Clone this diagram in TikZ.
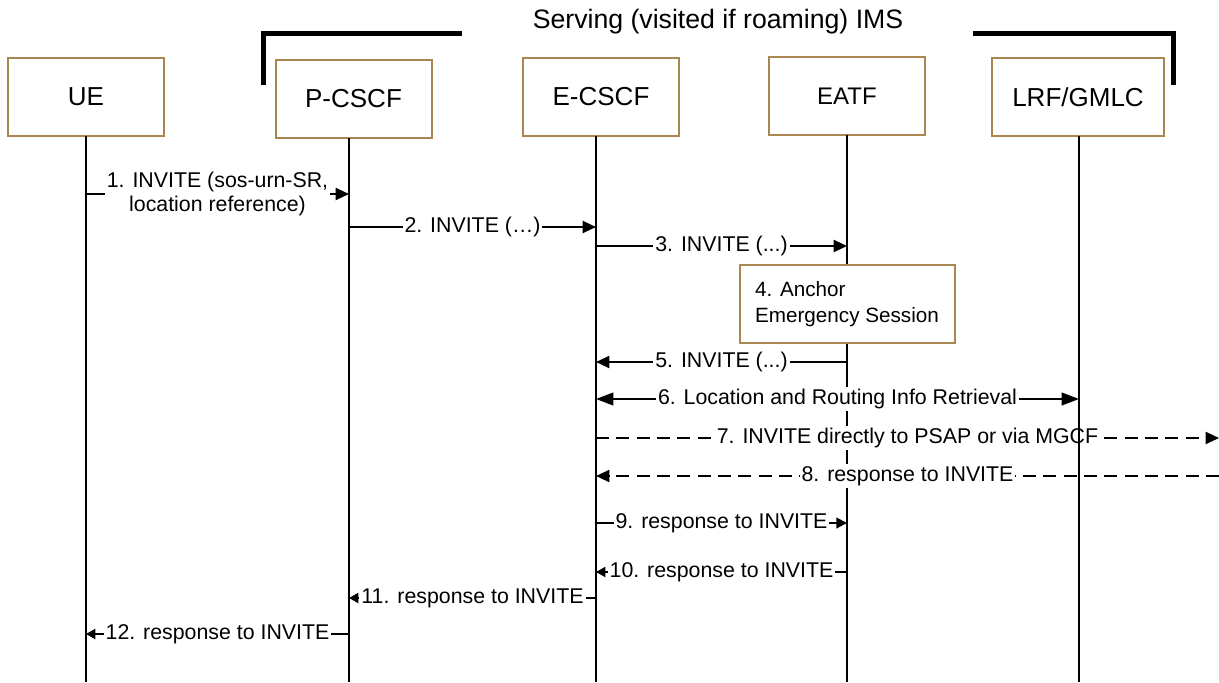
\documentclass[tikz,border=0pt]{standalone}
\usepackage{fontspec}
\setmainfont{Liberation Sans}
\usetikzlibrary{arrows.meta}
\definecolor{boxc}{RGB}{170,135,80}
\begin{document}
\begin{tikzpicture}[x=0.75pt,y=-0.75pt,
  actor/.style={draw=boxc,line width=1.5pt,fill=white,minimum width=117pt,minimum height=58.5pt,inner sep=0pt,font=\fontsize{19.5}{23}\selectfont},
  life/.style={line width=1.5pt},
  msg/.style={line width=1.5pt,-{Triangle[length=10pt,width=9pt]}},
  bigmsg/.style={line width=1.5pt,{Triangle[length=13pt,width=9.5pt]}-{Triangle[length=13pt,width=9.5pt]}},
  smallmsg/.style={line width=1.5pt,-{Triangle[length=7pt,width=7.5pt]}},
  dmsg/.style={msg,dash pattern=on 9.75pt off 5.5pt},
  lbl/.style={fill=white,inner sep=1.5pt,font=\fontsize{16}{18}\selectfont},
  bracketline/.style={line width=3.75pt}]
\useasboundingbox (0,0) rectangle (1219,682);

% title and bracket
\node[font=\fontsize{20}{24}\selectfont] (title) at (718,22) {Serving (visited if roaming) IMS};
\draw[bracketline] (263,85) -- (263,33) -- (462,33);
\draw[bracketline] (973,33) -- (1173,33) -- (1173,85);

% actors
\node[actor] (ue) at (86,97) {UE};
\node[actor] (pcscf) at (353.5,99) {P-CSCF};
\node[actor] (ecscf) at (601,97) {E-CSCF};
\node[actor,font=\fontsize{18}{22}\selectfont] (eatf) at (847,96) {EATF};
\node[actor,minimum width=129pt] (lrf) at (1078,97) {LRF/GMLC};

% lifeline anchors
\coordinate (Lue) at (86,136);
\coordinate (Lp) at (349,138);
\coordinate (Le) at (596,136);
\coordinate (La) at (847,135);
\coordinate (Ll) at (1079,136);
\coordinate (Edge) at (1219,0);

\draw[life] (Lue) -- (Lue |- 0,682);
\draw[life] (Lp) -- (Lp |- 0,682);
\draw[life] (Le) -- (Le |- 0,682);
\draw[life] (La) -- (La |- 0,682);

% messages
\draw[msg] (Lue |- 0,194) -- node[lbl,align=center,font=\fontsize{16}{18}\selectfont] {1. INVITE (sos-urn-SR,\\location reference)} (Lp |- 0,194);
\draw[msg] (Lp |- 0,227) -- node[lbl] {2. INVITE (\dots)} (Le |- 0,227);
\draw[msg] (Le |- 0,246) -- node[lbl] {3. INVITE (...)} (La |- 0,246);

\node[draw=boxc,line width=1.5pt,fill=white,minimum width=161.25pt,minimum height=58.5pt,align=left,font=\fontsize{15.5}{19.5}\selectfont] (anchor) at (847,304) {4. Anchor\\Emergency Session};

\draw[msg] (La |- 0,362) -- node[lbl] {5. INVITE (...)} (Le |- 0,362);
\draw[bigmsg] (Le |- 0,399) -- node[lbl] {6. Location and Routing Info Retrieval} (Ll |- 0,399);
\draw[dmsg] (Le |- 0,438) -- node[lbl] {7. INVITE directly to PSAP or via MGCF} (Edge |- 0,438);
\draw[dmsg] (Edge |- 0,476) -- node[lbl] {8. response to INVITE} (Le |- 0,476);
\draw[msg,-{Triangle[length=8pt,width=8pt]}] (Le |- 0,523) -- node[lbl] {9. response to INVITE} (La |- 0,523);
\draw[smallmsg] (La |- 0,572) -- node[lbl] {10. response to INVITE} (Le |- 0,572);
\draw[smallmsg] (Le |- 0,598) -- node[lbl] {11. response to INVITE} (Lp |- 0,598);
\draw[smallmsg] (Lp |- 0,634) -- node[lbl] {12. response to INVITE} (Lue |- 0,634);

% LRF lifeline drawn on top
\draw[life] (Ll) -- (Ll |- 0,682);
\end{tikzpicture}
\end{document}
